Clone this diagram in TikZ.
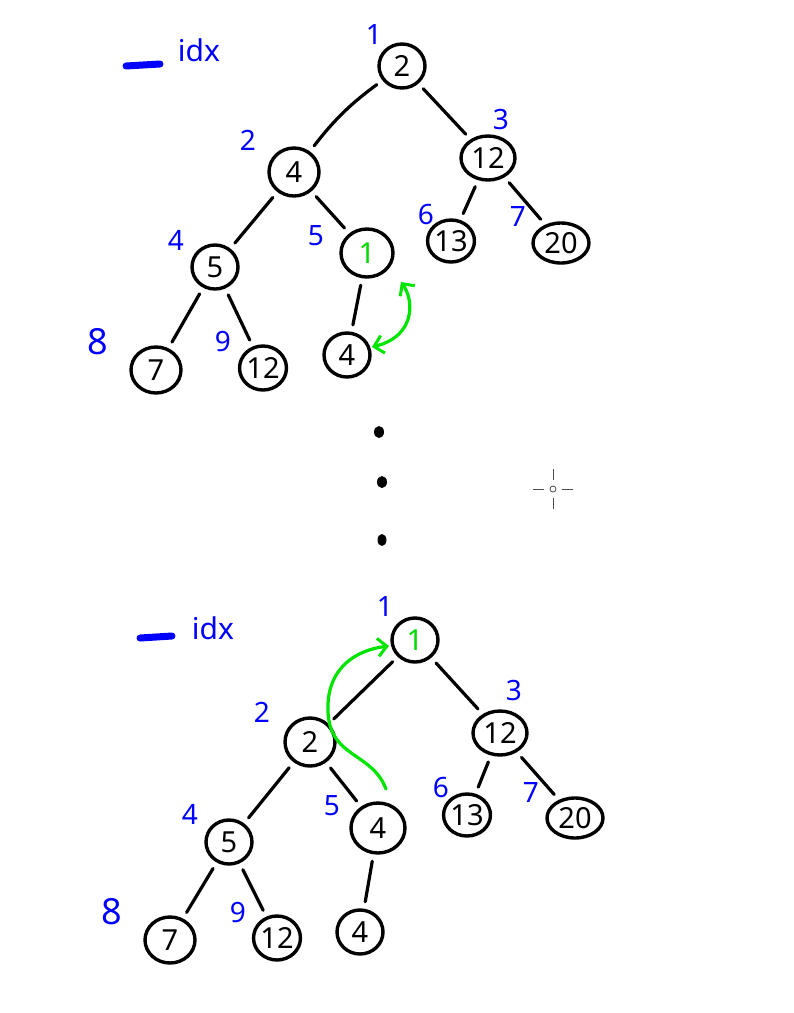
\documentclass[tikz,border=0pt]{standalone}
\usepackage{fontspec}
\setmainfont{Noto Sans}
\usetikzlibrary{shapes.geometric,arrows.meta}
\tikzset{
  nd/.style={ellipse, draw=black, line width=3.4pt, inner sep=0pt, minimum width=46pt, minimum height=44pt, font=\fontsize{29}{29}\selectfont},
  edge/.style={line width=3.2pt, line cap=round, shorten <=7pt, shorten >=7pt},
  idxl/.style={text=blue, font=\fontsize{28}{28}\selectfont, inner sep=0pt},
  garrow/.style={draw=green!90!black, line width=3.2pt, line cap=round, {Straight Barb[length=9pt,width=18pt,line width=3pt]}-{Straight Barb[length=9pt,width=18pt,line width=3pt]}},
  garrowone/.style={draw=green!90!black, line width=3.2pt, line cap=round, -{Straight Barb[length=9pt,width=18pt,line width=3pt]}}
}
\begin{document}
\begin{tikzpicture}[x=1pt,y=-1pt]
\useasboundingbox (0,0) rectangle (794,1013);
\fill[white] (0,0) rectangle (794,1013);

% ---------- top legend ----------
\coordinate (la1) at (126,66);
\coordinate (la2) at (160,64);
\draw[blue, line width=7pt, line cap=round] (la1) -- (la2);
\node[idxl, font=\fontsize{30}{30}\selectfont] (lidx1) at (199,50) {idx};

% ---------- top tree ----------
\node[nd] (a1) at (402,66) {2};
\node[nd, minimum width=50pt, minimum height=48pt] (a2) at (294,172) {4};
\node[nd, minimum width=54pt, minimum height=44pt] (a3) at (488,158) {12};
\node[nd] (a4) at (215,267) {5};
\node[nd, minimum width=52pt, minimum height=48pt] (a5) at (367,253) {\textcolor{green!85!black}{1}};
\node[nd, minimum width=46pt, minimum height=42pt] (a6) at (451,241) {13};
\node[nd, minimum width=56pt, minimum height=40pt] (a7) at (561,243) {20};
\node[nd, minimum width=50pt, minimum height=46pt] (a8) at (156,370) {7};
\node[nd] (a9) at (263,368) {12};
\node[nd] (a10) at (347,355) {4};

\draw[edge] (a1) to[bend right=8] (a2);
\draw[edge] (a1) -- (a3);
\draw[edge] (a2) -- (a4);
\draw[edge] (a2) -- (a5);
\draw[edge] (a3) -- (a6);
\draw[edge] (a3) -- (a7);
\draw[edge] (a4) -- (a8);
\draw[edge] (a4) -- (a9);
\draw[edge] (a5) -- (a10);

\node[idxl] (ai1) at (374,34) {1};
\node[idxl] (ai2) at (248,140) {2};
\node[idxl] (ai3) at (501,119) {3};
\node[idxl] (ai4) at (176,240) {4};
\node[idxl] (ai5) at (316,236) {5};
\node[idxl] (ai6) at (426,214) {6};
\node[idxl] (ai7) at (518,216) {7};
\node[idxl, font=\fontsize{36}{36}\selectfont] (ai8) at (98,342) {8};
\node[idxl] (ai9) at (223,341) {9};

\coordinate (ga1) at (401,282);
\coordinate (ga2) at (372,347);
\draw[garrow] (ga1) .. controls (414,300) and (416,336) .. (ga2);

% ---------- dots & cursor ----------
\fill[black] (379,432) ellipse (5pt and 6pt);
\fill[black] (382,482) ellipse (5pt and 6pt);
\fill[black] (382,540) ellipse (4.5pt and 6pt);
\coordinate (cur) at (553,489);
\draw[black!70, line width=0.8pt] (cur) circle (3pt);
\draw[black!70, line width=0.8pt] ([xshift=-20pt]cur) -- ([xshift=-9pt]cur);
\draw[black!70, line width=0.8pt] ([xshift=9pt]cur) -- ([xshift=20pt]cur);
\draw[black!70, line width=0.8pt] ([yshift=-20pt]cur) -- ([yshift=-9pt]cur);
\draw[black!70, line width=0.8pt] ([yshift=9pt]cur) -- ([yshift=20pt]cur);

% ---------- bottom legend ----------
\coordinate (lb1) at (140,638);
\coordinate (lb2) at (172,636);
\draw[blue, line width=7pt, line cap=round] (lb1) -- (lb2);
\node[idxl, font=\fontsize{30}{30}\selectfont] (lidx2) at (213,628) {idx};

% ---------- bottom tree ----------
\node[nd] (b1) at (415,640) {\textcolor{green!85!black}{1}};
\node[nd, minimum width=50pt, minimum height=48pt] (b2) at (310,742) {2};
\node[nd, minimum width=54pt, minimum height=44pt] (b3) at (500,733) {12};
\node[nd] (b4) at (229,842) {5};
\node[nd, minimum width=54pt, minimum height=50pt] (b5) at (378,828) {4};
\node[nd, minimum width=46pt, minimum height=42pt] (b6) at (467,815) {13};
\node[nd, minimum width=56pt, minimum height=40pt] (b7) at (575,818) {20};
\node[nd, minimum width=50pt, minimum height=46pt] (b8) at (170,940) {7};
\node[nd] (b9) at (277,938) {12};
\node[nd] (b10) at (360,932) {4};

\draw[edge] (b1) -- (b2);
\draw[edge] (b1) -- (b3);
\draw[edge] (b2) -- (b4);
\draw[edge] (b2) -- (b5);
\draw[edge] (b3) -- (b6);
\draw[edge] (b3) -- (b7);
\draw[edge] (b4) -- (b8);
\draw[edge] (b4) -- (b9);
\draw[edge] (b5) -- (b10);

\node[idxl] (bi1) at (385,606) {1};
\node[idxl] (bi2) at (262,712) {2};
\node[idxl] (bi3) at (514,690) {3};
\node[idxl] (bi4) at (190,814) {4};
\node[idxl] (bi5) at (332,806) {5};
\node[idxl] (bi6) at (441,787) {6};
\node[idxl] (bi7) at (531,792) {7};
\node[idxl, font=\fontsize{36}{36}\selectfont] (bi8) at (112,912) {8};
\node[idxl] (bi9) at (238,912) {9};

\coordinate (gb1) at (386,789);
\coordinate (gb2) at (389,646);
\draw[garrowone] (gb1) .. controls (372,752) and (330,758) .. (328,712)
  .. controls (326,668) and (356,650) .. (gb2);
\end{tikzpicture}
\end{document}
